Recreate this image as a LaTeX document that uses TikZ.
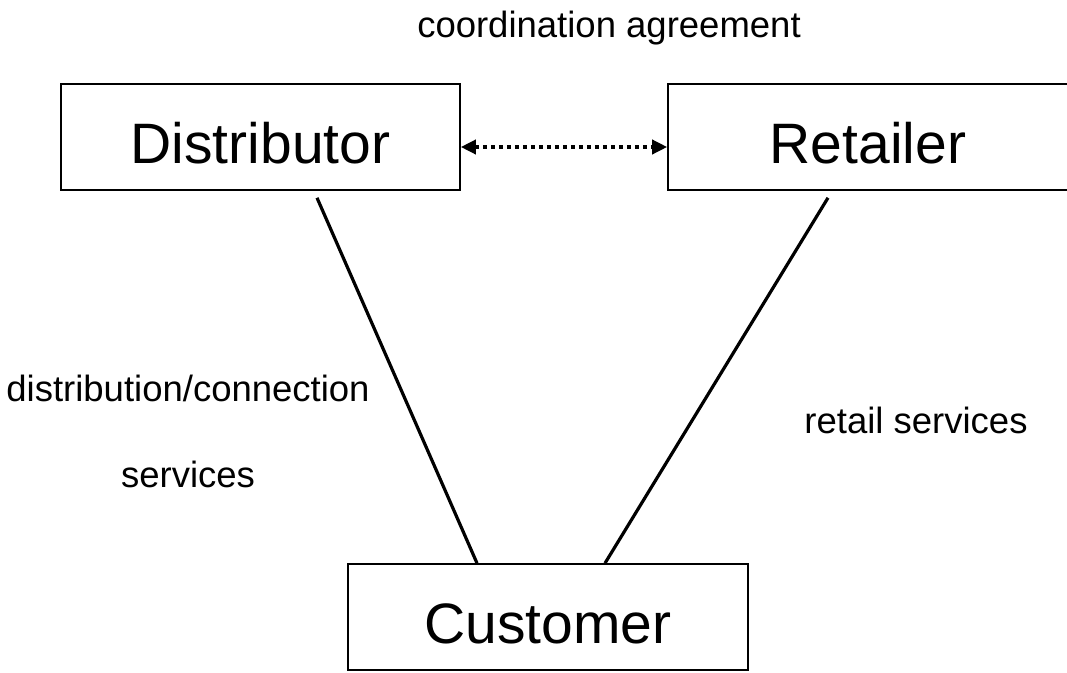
\documentclass[tikz,border=0pt]{standalone}
\usepackage{fontspec}
\setmainfont{Liberation Sans}
\usetikzlibrary{arrows.meta}
\begin{document}
\begin{tikzpicture}[x=1pt,y=-1pt,
  box/.style={draw=black, line width=1.6pt, rectangle, inner sep=0pt,
    minimum height=106pt, text height=52pt, text depth=0pt,
    font=\fontsize{57}{68}\selectfont},
  lbl/.style={anchor=base, inner sep=0pt, font=\fontsize{36.5}{44}\selectfont},
  conn/.style={line width=3.2pt},
  agree/.style={line width=3.5pt, dash pattern=on 4pt off 4pt,
    {Triangle[length=15pt,width=14pt]}-{Triangle[length=15pt,width=14pt]}}]
\useasboundingbox (0,0) rectangle (1067,672);
\fill[white] (0,0) rectangle (1067,672);
\node[box, minimum width=399pt] (dist) at (260.5,137) {Distributor};
\node[box, minimum width=400pt] (ret) at (868,137) {Retailer};
\node[box, minimum width=400pt] (cust) at (548,617) {Customer};
\node[lbl] (coord) at (609,37) {coordination agreement};
\node[lbl] (dcs1) at (188,401) {distribution/connection};
\node[lbl] (dcs2) at (188,487) {services};
\node[lbl] (rs) at (916,433) {retail services};
\draw[agree] ([yshift=-10pt]dist.east) -- ([yshift=-10pt]ret.west);
\draw[conn] ([shift={(56.5pt,-7pt)}]dist.south) -- ([xshift=-71pt]cust.north);
\draw[conn] ([shift={(-40pt,-7pt)}]ret.south) -- ([xshift=57pt]cust.north);
\end{tikzpicture}
\end{document}
